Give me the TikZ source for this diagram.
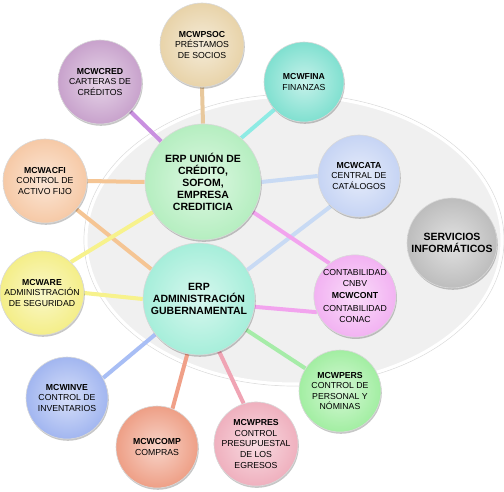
\documentclass[tikz,border=0pt]{standalone}
\usepackage{fontspec}
\setmainfont{Liberation Sans}
\usetikzlibrary{shadows}
\pgfdeclarelayer{bg}
\pgfdeclarelayer{ln}
\pgfsetlayers{bg,ln,main}
\definecolor{credC}{HTML}{C8A2CC}\definecolor{credL}{HTML}{C990E0}
\definecolor{psocC}{HTML}{E8D3A9}\definecolor{psocL}{HTML}{E8C89C}
\definecolor{finaC}{HTML}{80E0D0}\definecolor{finaL}{HTML}{8EEBE4}
\definecolor{acfiC}{HTML}{F6C9A6}\definecolor{acfiL}{HTML}{F5C594}
\definecolor{unionC}{HTML}{B5EEC0}
\definecolor{cataC}{HTML}{C6D4F4}\definecolor{cataL}{HTML}{C8DAF4}
\definecolor{servC}{HTML}{BDBDBD}
\definecolor{wareC}{HTML}{F4EE88}\definecolor{wareL}{HTML}{F7F28C}
\definecolor{adminC}{HTML}{A6EEDA}
\definecolor{contC}{HTML}{F2B2F2}\definecolor{contL}{HTML}{F2A4EE}
\definecolor{persC}{HTML}{A2EEA2}\definecolor{persL}{HTML}{A6ECA8}
\definecolor{inveC}{HTML}{A2B6F0}\definecolor{inveL}{HTML}{A8BEF5}
\definecolor{compC}{HTML}{EE9F86}\definecolor{compL}{HTML}{F0A088}
\definecolor{presC}{HTML}{EFB0BE}\definecolor{presL}{HTML}{F0A4B4}
\definecolor{ellC}{HTML}{F0F0F0}
\newcommand{\modfont}{\fontsize{8.7}{10.6}\selectfont}
\newcommand{\bigfont}{\fontsize{10.5}{12}\selectfont\bfseries}
\begin{document}
\begin{tikzpicture}[x=1pt,y=-1pt,
  bub/.style={circle, minimum size=#1, inner sep=0pt, align=center,
    text=black, font=\modfont, draw=black!15, line width=0.6pt,
    drop shadow={shadow xshift=0.8pt,shadow yshift=-1.8pt,opacity=0.22,fill=black}},
  fc/.style={shade, shading=radial, inner color=#1!45!white, outer color=#1},
  conn/.style={line width=4pt}]
\useasboundingbox (0,0) rectangle (504,492);
\begin{pgfonlayer}{bg}
  \fill[white] (0,0) rectangle (504,492);
  \draw[black!13, line width=0.7pt] (294,240) ellipse [x radius=210, y radius=146];
  \draw[white, line width=3pt, fill=ellC] (294,240) ellipse [x radius=208, y radius=144];
\end{pgfonlayer}

\node[bub=84pt, fc=credC] (cred) at (100,82) {\textbf{MCWCRED}\\CARTERAS DE\\CRÉDITOS};
\node[bub=84pt, fc=psocC] (psoc) at (202,45) {\textbf{MCWPSOC}\\PRÉSTAMOS\\DE SOCIOS};
\node[bub=80pt, fc=finaC] (fina) at (304,82) {\textbf{MCWFINA}\\FINANZAS};
\node[bub=84pt, fc=acfiC] (acfi) at (45,181) {\textbf{MCWACFI}\\CONTROL DE\\ACTIVO FIJO};
\node[bub=116pt, fc=unionC, font=\bigfont] (union) at (203,182) {ERP UNIÓN DE\\CRÉDITO,\\SOFOM,\\EMPRESA\\CREDITICIA};
\node[bub=82pt, fc=cataC] (cata) at (359,176) {\textbf{MCWCATA}\\CENTRAL DE\\CATÁLOGOS};
\node[bub=90pt, fc=servC, font=\bigfont] (serv) at (452,243) {SERVICIOS\\INFORMÁTICOS};
\node[bub=84pt, fc=wareC] (ware) at (42,293) {\textbf{MCWARE}\\ADMINISTRACIÓN\\DE SEGURIDAD};
\node[bub=112pt, fc=adminC, font=\bigfont] (admin) at (199,299) {ERP\\ADMINISTRACIÓN\\GUBERNAMENTAL};
\node[bub=82pt, fc=contC] (cont) at (355,296) {CONTABILIDAD\\CNBV\\[2pt]\textbf{MCWCONT}\\[2pt]CONTABILIDAD\\CONAC};
\node[bub=82pt, fc=persC] (pers) at (340,391) {\textbf{MCWPERS}\\CONTROL DE\\PERSONAL Y\\NÓMINAS};
\node[bub=82pt, fc=inveC] (inve) at (67,398) {\textbf{MCWINVE}\\CONTROL DE\\INVENTARIOS};
\node[bub=82pt, fc=compC] (comp) at (157,447) {\textbf{MCWCOMP}\\COMPRAS};
\node[bub=84pt, fc=presC] (pres) at (256,444) {\textbf{MCWPRES}\\CONTROL\\PRESUPUESTAL\\DE LOS\\EGRESOS};

\begin{pgfonlayer}{ln}
  \draw[conn, credL] (cred) -- (union);
  \draw[conn, psocL] (psoc.south) -- (union.north);
  \draw[conn, finaL] (union.49) -- (fina.223);
  \draw[conn, acfiL] (acfi.east) -- (union.west);
  \draw[conn, acfiL] (acfi.-42) -- (admin.148);
  \draw[conn, wareL] (ware.47) -- (union.211);
  \draw[conn, wareL] (ware.east) -- (admin.west);
  \draw[conn, cataL] (cata.west) -- (union.east);
  \draw[conn, cataL] (cata.227) -- (admin.31);
  \draw[conn, contL] (union.-31) -- (cont.128);
  \draw[conn, contL] (admin.-8) -- (cont.203);
  \draw[conn, persL] (admin) -- (pers);
  \draw[conn, inveL] (admin.219) -- (inve.29);
  \draw[conn, compL] (admin.258) -- (comp.68);
  \draw[conn, presL] (admin.-69) -- (pres.107);
\end{pgfonlayer}
\end{tikzpicture}
\end{document}
